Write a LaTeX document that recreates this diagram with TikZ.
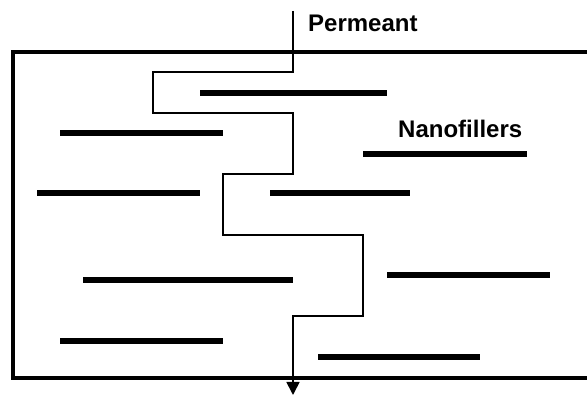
\documentclass[tikz,border=0pt]{standalone}
\usepackage{fontspec}
\setmainfont{Liberation Sans}
\usetikzlibrary{arrows.meta}
\begin{document}
\begin{tikzpicture}[x=1pt,y=-1pt,
  frame/.style={line width=3.2pt},
  filler/.style={line width=5.6pt},
  route/.style={line width=1.7pt,-{Triangle[width=13pt,length=13pt]}},
  lbl/.style={font=\bfseries\fontsize{24}{28}\selectfont,inner sep=0pt,anchor=base west}]
\useasboundingbox (0,0) rectangle (587,395);
% membrane frame (right side cut off)
\draw[frame] (590,52) -- (13,52) -- (13,378) -- (590,378);
% nanofillers
\draw[filler] (200,93) -- (387,93);
\draw[filler] (60,133) -- (223,133);
\draw[filler] (363,154) -- (527,154);
\draw[filler] (37,193) -- (200,193);
\draw[filler] (270,193) -- (410,193);
\draw[filler] (83,280) -- (293,280);
\draw[filler] (387,275) -- (550,275);
\draw[filler] (60,341) -- (223,341);
\draw[filler] (318,357) -- (480,357);
% permeant route
\coordinate (in) at (293,11);
\coordinate (out) at (293,395);
\draw[route] (in) -- (293,72) -- (153,72) -- (153,113) -- (293,113) -- (293,174)
  -- (223,174) -- (223,235) -- (363,235) -- (363,316) -- (293,316) -- (out);
% labels
\node[lbl] (perm) at (308,32) {Permeant};
\node[lbl] (nano) at (398,138) {Nanofillers};
\end{tikzpicture}
\end{document}
